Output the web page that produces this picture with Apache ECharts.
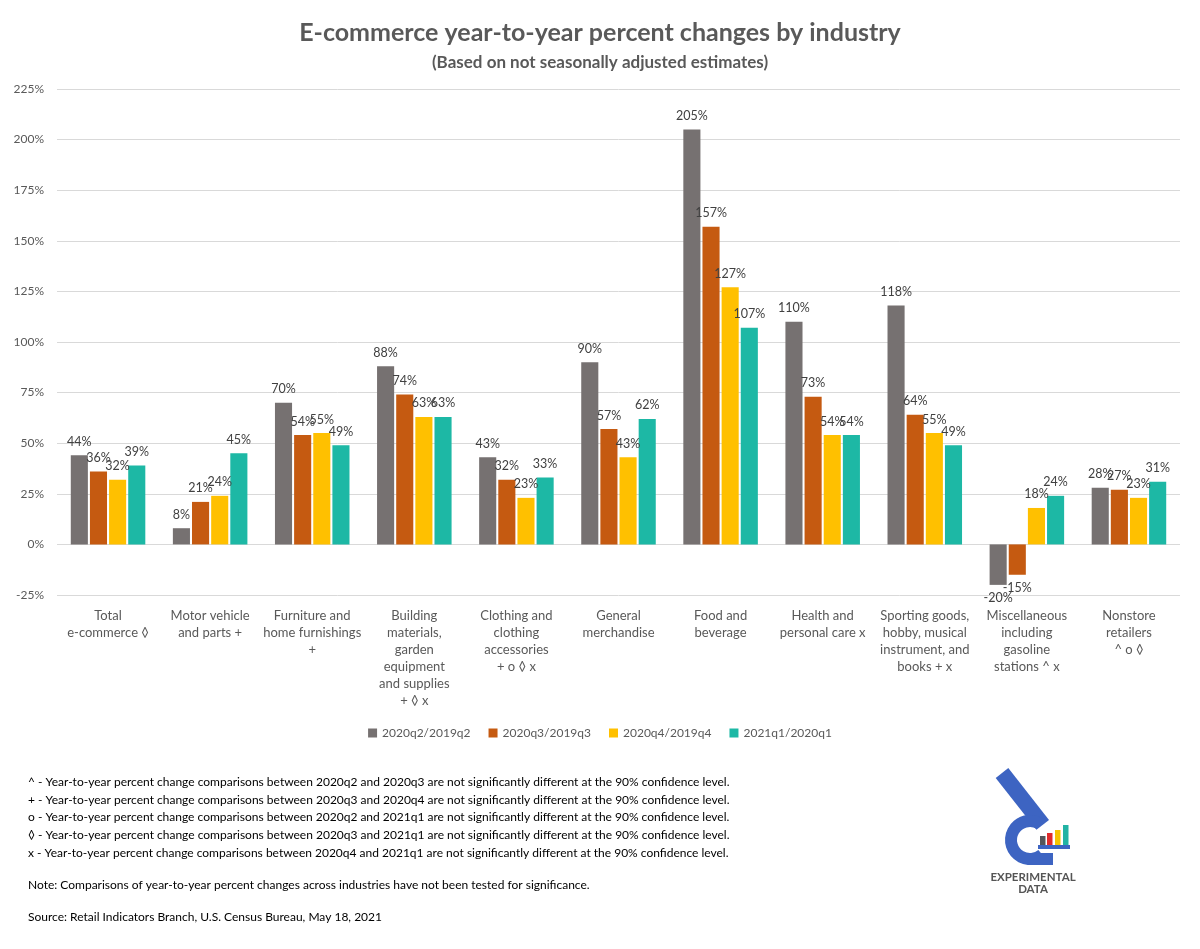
<!DOCTYPE html>
<html><head><meta charset="utf-8">
<script src="https://cdn.jsdelivr.net/npm/echarts@6/dist/echarts.min.js"></script>
<style>html,body{margin:0;padding:0;background:#fff}#c{width:1200px;height:949px}</style>
</head><body><div id="c"></div>
<script>
const categories = [
  "Total\ne-commerce ◊",
  "Motor vehicle\nand parts +",
  "Furniture and\nhome furnishings\n+",
  "Building\nmaterials,\ngarden\nequipment\nand supplies\n+ ◊ x",
  "Clothing and\nclothing\naccessories\n+ o ◊ x",
  "General\nmerchandise",
  "Food and\nbeverage",
  "Health and\npersonal care x",
  "Sporting goods,\nhobby, musical\ninstrument, and\nbooks + x",
  "Miscellaneous\nincluding\ngasoline\nstations ^ x",
  "Nonstore\nretailers\n^ o ◊"
];
const seriesNames = ["2020q2/2019q2","2020q3/2019q3","2020q4/2019q4","2021q1/2020q1"];
const q2_2020 = [44, 8, 70, 88, 43, 90, 205, 110, 118, -20, 28];
const q3_2020 = [36, 21, 54, 74, 32, 57, 157, 73, 64, -15, 27];
const q4_2020 = [32, 24, 55, 63, 23, 43, 127, 54, 55, 18, 23];
const q1_2021 = [39, 45, 49, 63, 33, 62, 107, 54, 49, 24, 31];
const yTicks = {min: -25, max: 225, interval: 25};
const footnotes = [
  "^ - Year-to-year percent change comparisons between 2020q2 and 2020q3 are not significantly different at the 90% confidence level.",
  "+ - Year-to-year percent change comparisons between 2020q3 and 2020q4 are not significantly different at the 90% confidence level.",
  "o - Year-to-year percent change comparisons between 2020q2 and 2021q1 are not significantly different at the 90% confidence level.",
  "◊ - Year-to-year percent change comparisons between 2020q3 and 2021q1 are not significantly different at the 90% confidence level.",
  "x - Year-to-year percent change comparisons between 2020q4 and 2021q1 are not significantly different at the 90% confidence level."
];
const noteText = "Note: Comparisons of year-to-year percent changes across industries have not been tested for significance.";
const sourceText = "Source: Retail Indicators Branch, U.S. Census Bureau, May 18, 2021";

const colors = ["#767171","#C55A11","#FFC000","#1DB8A5"];
const FONT = "Lato";
const allSeries = [q2_2020,q3_2020,q4_2020,q1_2021];

const chart = echarts.init(document.getElementById('c'));
const graphics = [];
footnotes.forEach((t,i)=>{
  graphics.push({type:'text', left:28, top:776 + i*17.7, style:{text:t, font:'12px '+FONT, fill:'#000'}});
});
graphics.push({type:'text', left:28, top:879, style:{text:noteText, font:'12px '+FONT, fill:'#000'}});
graphics.push({type:'text', left:28, top:911, style:{text:sourceText, font:'12px '+FONT, fill:'#000'}});
// logo
const blue = '#3D64C2';
graphics.push({type:'rect', shape:{x:-8, y:0, width:16, height:66}, x:1002, y:773, rotation:0.665, style:{fill:blue}});
graphics.push({type:'sector', shape:{cx:1030, cy:840, r:25, r0:13, startAngle:50*Math.PI/180, endAngle:300*Math.PI/180, clockwise:true}, style:{fill:blue}});
graphics.push({type:'rect', shape:{x:1030, y:853, width:23, height:12}, style:{fill:blue}});
graphics.push({type:'rect', shape:{x:1040, y:836, width:5.5, height:9}, style:{fill:'#55565A'}});
graphics.push({type:'rect', shape:{x:1047, y:833, width:5.5, height:12}, style:{fill:'#E02B2B'}});
graphics.push({type:'rect', shape:{x:1055, y:830, width:5.5, height:15}, style:{fill:'#F5C400'}});
graphics.push({type:'rect', shape:{x:1063, y:825, width:5.5, height:20}, style:{fill:'#22B3A4'}});
graphics.push({type:'rect', shape:{x:1038, y:845, width:32, height:4}, style:{fill:blue}});
graphics.push({type:'text', x:1033, y:877, style:{text:'EXPERIMENTAL', font:'bold 11.5px '+FONT, fill:'#555', align:'center', verticalAlign:'middle'}});
graphics.push({type:'text', x:1033, y:889, style:{text:'DATA', font:'bold 11.5px '+FONT, fill:'#555', align:'center', verticalAlign:'middle'}});

chart.setOption({
  animation:false,
  color: colors,
  textStyle:{fontFamily:FONT},
  title:[
    {text:'E-commerce year-to-year percent changes by industry', left:'center', top:15,
     textStyle:{fontFamily:FONT, fontWeight:'bold', fontSize:25, color:'#595959'}},
    {text:'(Based on not seasonally adjusted estimates)', left:'center', top:49,
     textStyle:{fontFamily:FONT, fontWeight:'bold', fontSize:17, color:'#595959'}}
  ],
  legend:{
    bottom:205, left:'center', itemWidth:9, itemHeight:9, itemGap:18,
    icon:'rect',
    textStyle:{fontFamily:FONT, fontSize:12, color:'#595959'},
    data: seriesNames
  },
  grid:{left:57, right:20, top:89, bottom:949-595, containLabel:false},
  xAxis:{
    type:'category', data:categories,
    axisLine:{show:false, onZero:false}, axisTick:{show:false},
    axisLabel:{interval:0, margin:12, fontFamily:FONT, fontSize:13, lineHeight:17, color:'#595959', align:'center', verticalAlign:'top'}
  },
  yAxis:{
    type:'value', min:yTicks.min, max:yTicks.max, interval:yTicks.interval,
    axisLine:{show:false}, axisTick:{show:false},
    axisLabel:{formatter:v=>v+'%', margin:13, fontFamily:FONT, fontSize:12, color:'#595959'},
    splitLine:{lineStyle:{color:'#D9D9D9', width:1}}
  },
  series: allSeries.map((arr,i)=>({
    name:seriesNames[i], type:'bar', barGap:'12%', barCategoryGap:'27%',
    data: arr.map(v=> v<0 ? {value:v, label:{position:'bottom'}} : v),
    label:{show:true, position:'top', distance:7, formatter:p=>p.value+'%', fontFamily:FONT, fontSize:12.5, color:'#404040'}
  })),
  graphic: graphics
});
</script></body></html>
